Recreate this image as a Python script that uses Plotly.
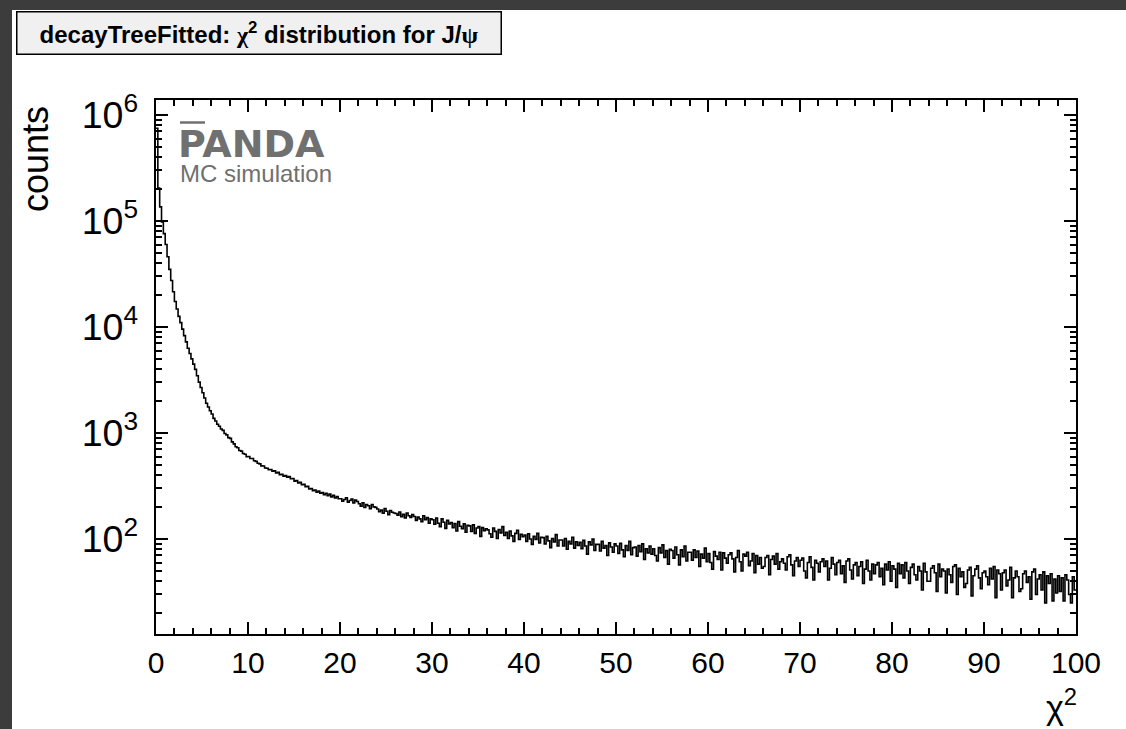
import plotly.graph_objects as go

# ---- data: chi2 histogram, 500 bins of width 0.2 on [0, 100] ----
x_min = 0.0
x_max = 100.0
n_bins = 500
counts = [
    750000, 205000, 136000, 98000, 76000, 60000, 46000, 35000, 27500, 21500,
    17400, 14800, 12600, 11000, 9550, 8300, 7240, 6310, 5620, 5010,
    4470, 3980, 3470, 3020, 2690, 2400, 2140, 1910, 1760, 1620,
    1510, 1375, 1300, 1210, 1160, 1090, 1060, 990, 960, 905,
    890, 825, 790, 742, 725, 685, 675, 640, 630, 598,
    600, 575, 575, 548, 540, 518, 512, 490, 488, 468,
    465, 450, 452, 436, 440, 420, 425, 405, 408, 392,
    396, 382, 388, 370, 372, 352, 356, 338, 342, 325,
    328, 312, 314, 296, 300, 286, 290, 276, 284, 270,
    275, 262, 270, 256, 265, 250, 258, 244, 252, 240,
    240, 228, 236, 245, 222, 231, 238, 219, 233, 226,
    215, 204, 220, 198, 211, 206, 193, 212, 201, 199,
    192, 181, 188, 175, 194, 183, 170, 186, 179, 176,
    174, 168, 180, 162, 171, 158, 176, 166, 160, 170,
    163, 150, 161, 155, 146, 166, 152, 159, 141, 155,
    152, 138, 158, 141, 131, 155, 144, 126, 150, 139,
    143, 128, 140, 119, 146, 132, 125, 139, 116, 135,
    133, 118, 136, 113, 127, 131, 106, 128, 120, 125,
    122, 112, 104, 127, 118, 101, 123, 114, 131, 108,
    116, 101, 119, 107, 95, 113, 121, 99, 111, 105,
    109, 95, 112, 100, 89, 106, 99, 113, 92, 104,
    103, 90, 106, 96, 83, 101, 94, 110, 86, 98,
    98, 86, 101, 80, 95, 90, 104, 82, 94, 87,
    93, 81, 97, 86, 72, 94, 88, 100, 78, 89,
    89, 77, 95, 82, 87, 70, 92, 84, 75, 90,
    86, 73, 91, 79, 68, 87, 78, 95, 71, 83,
    84, 69, 87, 76, 90, 64, 81, 74, 86, 72,
    81, 70, 62, 83, 74, 88, 67, 78, 58, 80,
    78, 66, 84, 71, 57, 79, 68, 86, 62, 75,
    75, 63, 79, 67, 77, 55, 72, 66, 82, 61,
    73, 60, 52, 76, 69, 64, 75, 51, 74, 66,
    59, 71, 74, 65, 49, 67, 78, 61, 50, 72,
    69, 75, 56, 62, 73, 48, 70, 58, 67, 53,
    55, 67, 70, 46, 64, 69, 58, 73, 52, 61,
    65, 59, 51, 68, 71, 57, 45, 62, 67, 55,
    63, 66, 50, 43, 60, 68, 54, 41, 63, 59,
    49, 61, 65, 55, 62, 41, 53, 67, 58, 46,
    60, 63, 47, 56, 39, 62, 65, 51, 42, 57,
    60, 45, 55, 61, 38, 52, 63, 50, 41, 58,
    47, 57, 60, 44, 53, 37, 58, 51, 61, 40,
    56, 52, 35, 59, 47, 57, 43, 60, 50, 38,
    54, 58, 46, 41, 55, 50, 33, 59, 49, 40,
    40, 53, 56, 48, 32, 58, 44, 52, 50, 31,
    52, 46, 39, 55, 57, 30, 53, 44, 49, 35,
    38, 51, 54, 29, 45, 52, 56, 43, 34, 48,
    50, 44, 37, 53, 42, 55, 28, 51, 47, 33,
    48, 51, 36, 41, 54, 28, 43, 50, 44, 32,
    34, 47, 50, 39, 44, 27, 49, 52, 30, 42,
    46, 33, 49, 25, 45, 38, 47, 26, 42, 31,
    45, 32, 43, 26, 46, 41, 30, 25, 44, 33,
]
x_tick_vals = [0, 10, 20, 30, 40, 50, 60, 70, 80, 90, 100]
title_text = ("<b>decayTreeFitted: <span style='font-family:Liberation Serif'>χ</span>"
              "<sup>2</sup> distribution for J/<span style='font-family:Liberation Serif'>ψ</span></b>")
y_title = "counts"
x_title = "χ<sup>2</sup>"

# ---- layout geometry (pixels) ----
W, H = 1126, 729
L, R, T, B = 156, 50, 100, 95
pw, ph = W - L - R, H - T - B


def px(xp):
    return (xp - L) / pw


def py(yp):
    return (H - B - yp) / ph


bw = (x_max - x_min) / n_bins
edges = [x_min + i * bw for i in range(n_bins)]
xs = edges + [x_max]
ys = counts + [counts[-1]]

fig = go.Figure()
fig.add_trace(go.Scatter(x=xs, y=ys, mode="lines", line=dict(color="black", width=1.6, shape="hv"),
                         hoverinfo="skip", showlegend=False))

FONT = "Liberation Sans, Arial, Helvetica, sans-serif"
DARK = "#3c3c3c"

fig.update_layout(
    width=W, height=H,
    margin=dict(l=L, r=R, t=T, b=B, pad=0),
    paper_bgcolor="white",
    plot_bgcolor="white",
    font=dict(family=FONT, color="black"),
    showlegend=False,
    xaxis=dict(range=[x_min, x_max], tickvals=x_tick_vals, ticks="inside", ticklen=12, tickwidth=1.5,
               tickcolor="black", showline=True, linecolor="black", linewidth=2, mirror="allticks",
               showgrid=False, zeroline=False, tickfont=dict(size=30, family=FONT),
               ticklabelstandoff=1,
               minor=dict(ticks="inside", ticklen=6, tickwidth=1.5, tickcolor="black", dtick=2, showgrid=False)),
    yaxis=dict(type="log", range=[1.104, 6.1415], dtick=1, exponentformat="power", showexponent="all",
               ticks="inside", ticklen=12, tickwidth=1.5, tickcolor="black", showline=True, linecolor="black",
               linewidth=2, mirror="allticks", showgrid=False, zeroline=False,
               tickfont=dict(size=30, family=FONT), ticklabelstandoff=10,
               minor=dict(ticks="inside", ticklen=6, tickwidth=1.5, tickcolor="black", dtick="D1", showgrid=False)),
)

shapes = [
    # dark frame: top strip and left strip
    dict(type="rect", xref="paper", yref="paper", x0=px(-20), x1=px(W + 20), y0=py(10), y1=py(-20),
         fillcolor=DARK, line=dict(width=0), layer="below"),
    dict(type="rect", xref="paper", yref="paper", x0=px(-20), x1=px(12), y0=py(H + 20), y1=py(-20),
         fillcolor=DARK, line=dict(width=0), layer="below"),
    # overline on P of PANDA
    dict(type="line", xref="paper", yref="paper", x0=px(180), x1=px(205), y0=py(122.5), y1=py(122.5),
         line=dict(color="#707070", width=2.5)),
]
fig.update_layout(shapes=shapes)

annotations = [
    dict(text=title_text, xref="paper", yref="paper", x=px(258.5), y=py(33.5), xanchor="center", yanchor="middle",
         showarrow=False, font=dict(size=24, family=FONT, color="black"), bgcolor="#f0f0f0",
         bordercolor="black", borderwidth=1.5, borderpad=0, width=483, height=41),
    dict(text="<b>PANDA</b>", xref="paper", yref="paper", x=px(176), y=py(143.5), xanchor="left", yanchor="middle",
         showarrow=False, font=dict(size=38, family="DejaVu Sans, sans-serif", color="#707070")),
    dict(text="MC simulation", xref="paper", yref="paper", x=px(178), y=py(173), xanchor="left", yanchor="middle",
         showarrow=False, font=dict(size=24, family=FONT, color="#707070")),
    dict(text=y_title, xref="paper", yref="paper", x=px(35), y=py(159), xanchor="center", yanchor="middle",
         textangle=-90, showarrow=False, font=dict(size=36, family=FONT, color="black")),
    dict(text=x_title, xref="paper", yref="paper", x=px(1079), y=py(704), xanchor="right", yanchor="middle",
         showarrow=False, font=dict(size=34, family=FONT, color="black")),
]
fig.update_layout(annotations=annotations)

fig.write_html(
    "out.html",
    post_script="document.documentElement.style.overflow='hidden';document.body.style.overflow='hidden';document.body.style.margin='0';",
)
